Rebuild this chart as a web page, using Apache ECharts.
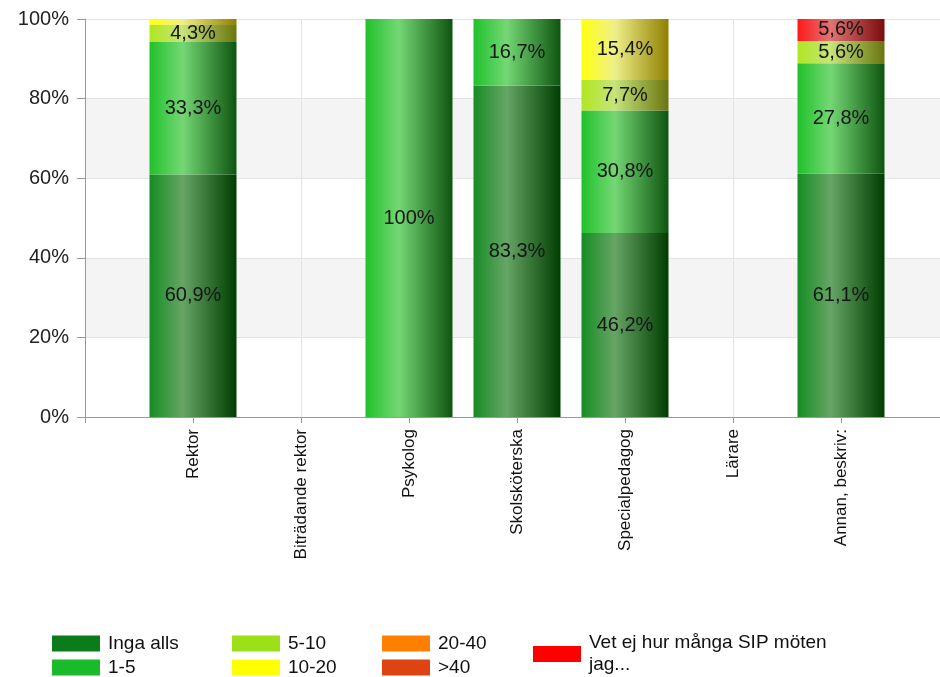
<!DOCTYPE html>
<html>
<head>
<meta charset="utf-8">
<script src="https://cdn.jsdelivr.net/npm/echarts@6/dist/echarts.min.js"></script>
<style>html,body{margin:0;padding:0;background:#fff;overflow:hidden;width:940px;height:677px}#c{width:949px;height:677px}</style>
</head>
<body>
<div id="c"></div>
<script>
var categories = ['Rektor','Biträdande rektor','Psykolog','Skolsköterska','Specialpedagog','Lärare','Annan, beskriv:'];
var seriesNames = ['Inga alls','1-5','5-10','10-20','20-40','>40','Vet ej hur många SIP möten jag...'];
var ingaAlls = [60.9, null, null, 83.3, 46.2, null, 61.1];
var en5 = [33.3, null, 100, 16.7, 30.8, null, 27.8];
var fem10 = [4.3, null, null, null, 7.7, null, 5.6];
var tio20 = [1.5, null, null, null, 15.4, null, null];
var tjugo40 = [null, null, null, null, null, null, null];
var over40 = [null, null, null, null, null, null, null];
var vetEj = [null, null, null, null, null, null, 5.6];
var yTicks = [0, 20, 40, 60, 80, 100];

var seriesValues = [ingaAlls, en5, fem10, tio20, tjugo40, over40, vetEj];
var solid = ['#0a7c1c','#1abb2a','#9be117','#ffff00','#ff8000','#dd4412','#ff0000'];
var grads = [
  ['#168c24','#66a566','#003d00'],
  ['#1fc22b','#74d774','#0e5510'],
  ['#b0e620','#c6e47a','#6b7510'],
  ['#ffff10','#efef8a','#8f8000'],
  ['#ff8a10','#f0b070','#8a4000'],
  ['#e04a18','#e09070','#7a2008'],
  ['#ff1818','#e27474','#7a0c0c']
];
var FONT = 'Liberation Sans, Arial';
var axisCats = [''].concat(categories).concat(['']);
function pad(a){ return [null].concat(a).concat([null]); }
function fmt(v){
  var s = (Math.round(v*10)/10);
  return (s % 1 === 0 ? String(s) : s.toFixed(1).replace('.', ',')) + '%';
}
var series = seriesNames.map(function(n,i){
  return {
    name: n, type: 'bar', stack: 'a', barWidth: 87,
    data: pad(seriesValues[i]),
    itemStyle: { color: { type:'linear', x:0, y:0, x2:1, y2:0, colorStops:[
      {offset:0, color:grads[i][0]}, {offset:0.38, color:grads[i][1]}, {offset:1, color:grads[i][2]}] } },
    label: { show: true, position: 'inside', color: '#151515', fontSize: 20, fontFamily: FONT,
      formatter: function(p){ return (p.value == null || p.value < 3) ? '' : fmt(p.value); } },
    emphasis: { disabled: true }
  };
});
function legendData(idx){
  return idx.map(function(i){ return { name: seriesNames[i], itemStyle: { color: solid[i] } }; });
}
var legendCommon = { orient: 'vertical', itemWidth: 48, itemHeight: 16, itemGap: 5, padding: 0,
  textStyle: { fontSize: 19, color: '#111', fontFamily: FONT, padding: [0,0,0,3] }, icon: 'rect' };
var chart = echarts.init(document.getElementById('c'));
chart.setOption({
  animation: false,
  grid: { left: 85, right: 0, top: 19, bottom: 260 },
  legend: [
    Object.assign({}, legendCommon, { left: 52, top: 634, data: legendData([0,1]) }),
    Object.assign({}, legendCommon, { left: 232, top: 634, data: legendData([2,3]) }),
    Object.assign({}, legendCommon, { left: 382, top: 634, data: legendData([4,5]) }),
    Object.assign({}, legendCommon, { left: 533, top: 632, data: legendData([6]),
      formatter: function(){ return 'Vet ej hur många SIP möten\njag...'; },
      textStyle: { fontSize: 19, color: '#111', fontFamily: FONT, lineHeight: 22, padding: [0,0,0,3] } })
  ],
  xAxis: {
    type: 'category', data: axisCats, boundaryGap: false,
    axisLine: { lineStyle: { color: '#999' } },
    axisTick: { show: true, length: 6, lineStyle: { color: '#999' } },
    axisLabel: { rotate: 90, fontSize: 17, color: '#111', margin: 12, interval: 0, fontFamily: FONT },
    splitLine: { show: true, lineStyle: { color: '#e3e3e3' } }
  },
  yAxis: {
    type: 'value', min: yTicks[0], max: yTicks[yTicks.length-1], interval: 20,
    axisLine: { show: true, lineStyle: { color: '#999' } },
    axisTick: { show: true, length: 8, lineStyle: { color: '#999' } },
    axisLabel: { formatter: '{value}%', fontSize: 20, color: '#222', margin: 16, fontFamily: FONT },
    splitLine: { lineStyle: { color: '#e3e3e3' } },
    splitArea: { show: true, areaStyle: { color: ['#ffffff', '#f4f4f4'] } }
  },
  series: series
});
</script>
</body>
</html>
